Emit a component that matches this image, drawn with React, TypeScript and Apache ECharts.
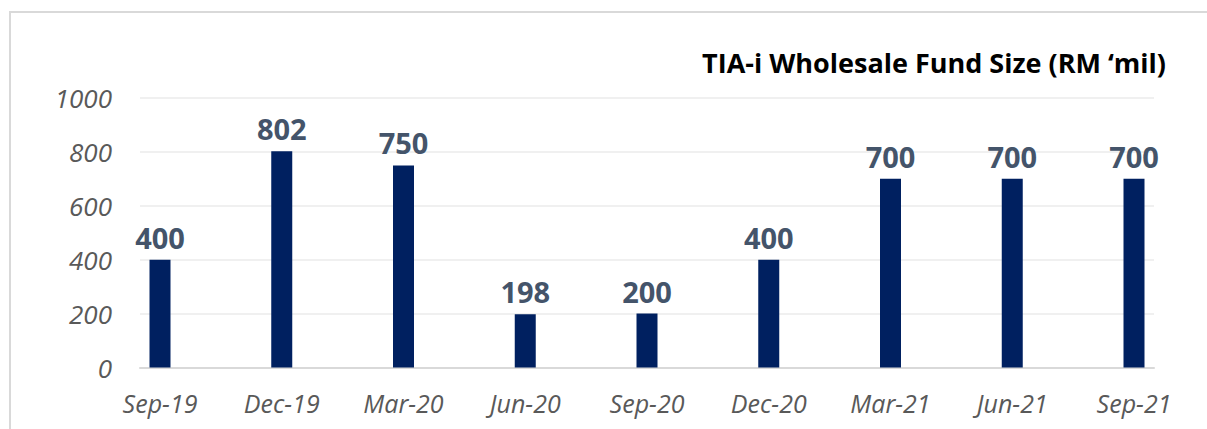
import React, { useEffect, useRef } from "react";
import * as echarts from "echarts";

const categories = ["Sep-19", "Dec-19", "Mar-20", "Jun-20", "Sep-20", "Dec-20", "Mar-21", "Jun-21", "Sep-21"];
const fundSize = [400, 802, 750, 198, 200, 400, 700, 700, 700];
const titleText = "TIA-i Wholesale Fund Size (RM \u2018mil)";

const FONT = "'Open Sans', 'Noto Sans', sans-serif";

export default function App() {
  const ref = useRef<HTMLDivElement>(null);
  useEffect(() => {
    document.body.style.margin = "0";
    const chart = echarts.init(ref.current!, null, { renderer: "svg" });
    chart.setOption({
      animation: false,
      backgroundColor: "#ffffff",
      title: {
        text: titleText,
        right: 36,
        top: 44,
        textStyle: { fontFamily: FONT, fontSize: 27, fontWeight: "bold", color: "#000000" },
      },
      grid: [
        { left: 160, right: 73, top: 98, bottom: 61.5 },
        { left: 140, right: 53, top: 98, bottom: 61.5 },
      ],
      xAxis: [
        {
          type: "category",
          gridIndex: 0,
          data: categories,
          boundaryGap: false,
          axisLine: { show: false },
          axisTick: { show: false },
          splitLine: { show: false },
          axisLabel: {
            fontFamily: FONT,
            fontSize: 25,
            fontStyle: "italic",
            color: "#595959",
            margin: 23,
            interval: 0,
          },
        },
        {
          type: "value",
          gridIndex: 1,
          min: 0,
          max: 1,
          axisLine: { show: true, lineStyle: { color: "#d9d9d9", width: 2 } },
          axisTick: { show: false },
          axisLabel: { show: false },
          splitLine: { show: false },
        },
      ],
      yAxis: [
        { type: "value", gridIndex: 0, min: 0, max: 1000, show: false, splitLine: { show: false } },
        {
          type: "value",
          gridIndex: 1,
          min: 0,
          max: 1000,
          interval: 200,
          axisLine: { show: false },
          axisTick: { show: false },
          axisLabel: {
            fontFamily: FONT,
            fontSize: 26,
            fontStyle: "italic",
            color: "#595959",
            margin: 28,
            formatter: (v: number) => String(v),
          },
          splitLine: { lineStyle: { color: "#f0f0f0", width: 2 } },
        },
      ],
      series: [
        {
          type: "bar",
          xAxisIndex: 0,
          yAxisIndex: 0,
          data: fundSize,
          barWidth: 21,
          itemStyle: { color: "#002060" },
          label: {
            show: true,
            position: "top",
            distance: 8,
            fontFamily: FONT,
            fontSize: 29,
            fontWeight: "bold",
            color: "#44546a",
          },
        },
      ],
      graphic: [
        { type: "line", shape: { x1: 10, y1: 11, x2: 10, y2: 429 }, style: { stroke: "#d9d9d9", lineWidth: 2 } },
        { type: "line", shape: { x1: 9, y1: 12, x2: 1207, y2: 12 }, style: { stroke: "#d9d9d9", lineWidth: 2 } },
      ],
    });
    return () => chart.dispose();
  }, []);
  return <div ref={ref} style={{ width: 1207, height: 429 }} />;
}
